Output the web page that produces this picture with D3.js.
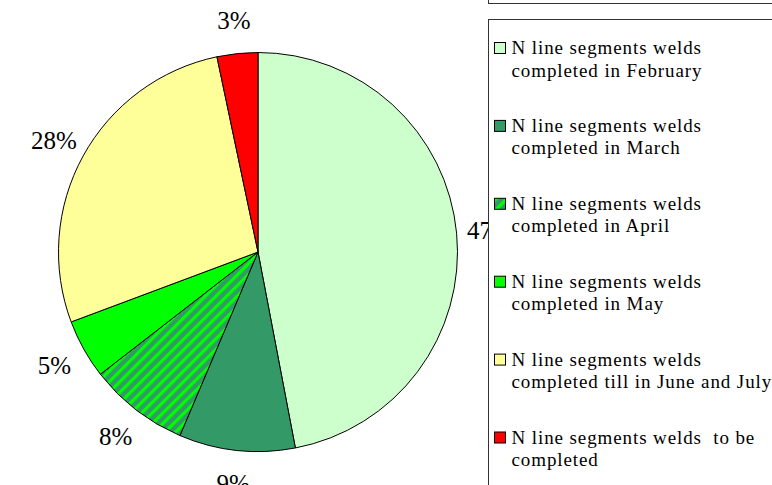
<!DOCTYPE html>
<html>
<head>
<meta charset="utf-8">
<script src="https://cdn.jsdelivr.net/npm/d3@7"></script>
<style>
  html, body { margin: 0; padding: 0; background: #fff; overflow: hidden; }
  svg { display: block; }
  .legend text { white-space: pre; }
</style>
</head>
<body>
<svg id="chart" width="772" height="485"></svg>
<script>
// slices, clockwise from 12 o'clock
const categories = [
    ["N line segments welds", "completed in February"],
    ["N line segments welds", "completed in March"],
    ["N line segments welds", "completed in April"],
    ["N line segments welds", "completed in May"],
    ["N line segments welds", "completed till in June and July"],
    ["N line segments welds  to be", "completed"]
];
const shares = [47.0, 9.4, 8.1, 4.8, 27.4, 3.3];
const pctLabels = ["47%", "9%", "8%", "5%", "28%", "3%"];
const fills = ["#CCFFCC", "#339966", "url(#stripes)", "#00FF00", "#FFFF99", "#FF0000"];

const width = 772, height = 485;
const cx = 258, cy = 252, radius = 199.5;
const labelRadius = 233;

const svg = d3.select("#chart");

// striped fill for the April slice
const defs = svg.append("defs");
const pattern = defs.append("pattern")
    .attr("id", "stripes")
    .attr("patternUnits", "userSpaceOnUse")
    .attr("width", 7.5)
    .attr("height", 7.5)
    .attr("patternTransform", "rotate(45)");
pattern.append("rect")
    .attr("width", 7.5)
    .attr("height", 7.5)
    .attr("fill", "#339966");
pattern.append("rect")
    .attr("width", 3.2)
    .attr("height", 7.5)
    .attr("fill", "#00FF00");

const pie = d3.pie().sort(null).value(d => d);
const arcs = pie(shares);

const arc = d3.arc().innerRadius(0).outerRadius(radius);
const labelArc = d3.arc().innerRadius(labelRadius).outerRadius(labelRadius);

const pieG = svg.append("g")
    .attr("transform", `translate(${cx},${cy})`);

pieG.selectAll("path")
    .data(arcs)
    .join("path")
        .attr("d", arc)
        .attr("fill", (d, i) => fills[i])
        .attr("stroke", "#000")
        .attr("stroke-width", 1);

pieG.selectAll("text")
    .data(arcs)
    .join("text")
        .attr("transform", d => `translate(${labelArc.centroid(d)})`)
        .attr("text-anchor", "middle")
        .attr("dy", "0.35em")
        .attr("font-family", "'Liberation Serif', serif")
        .attr("font-size", 25)
        .attr("fill", "#000")
        .text((d, i) => pctLabels[i]);

// legend boxes (drawn over the 47% label like the original)
const boxX = 488.5;
svg.append("rect")
    .attr("x", boxX).attr("y", -20)
    .attr("width", 300).attr("height", 23.5)
    .attr("fill", "#fff")
    .attr("stroke", "#333").attr("stroke-width", 1);

svg.append("rect")
    .attr("x", boxX).attr("y", 19.5)
    .attr("width", 300).attr("height", 480)
    .attr("fill", "#fff")
    .attr("stroke", "#333").attr("stroke-width", 1);

const legend = svg.append("g").attr("class", "legend");
const item = legend.selectAll("g")
    .data(categories)
    .join("g")
        .attr("transform", (d, i) => `translate(494.5, ${42.5 + i * 77.9})`);

item.append("rect")
    .attr("width", 11)
    .attr("height", 11)
    .attr("fill", (d, i) => fills[i])
    .attr("stroke", "#000")
    .attr("stroke-width", 1);

item.append("text")
    .attr("x", 17)
    .attr("y", 11.5)
    .attr("font-family", "'Liberation Serif', serif")
    .attr("font-size", 19)
    .attr("letter-spacing", 0.9)
    .attr("fill", "#000")
    .selectAll("tspan")
    .data(d => d)
    .join("tspan")
        .attr("x", 17)
        .attr("dy", (d, i) => i === 0 ? 0 : 22.5)
        .text(d => d);
</script>
</body>
</html>
